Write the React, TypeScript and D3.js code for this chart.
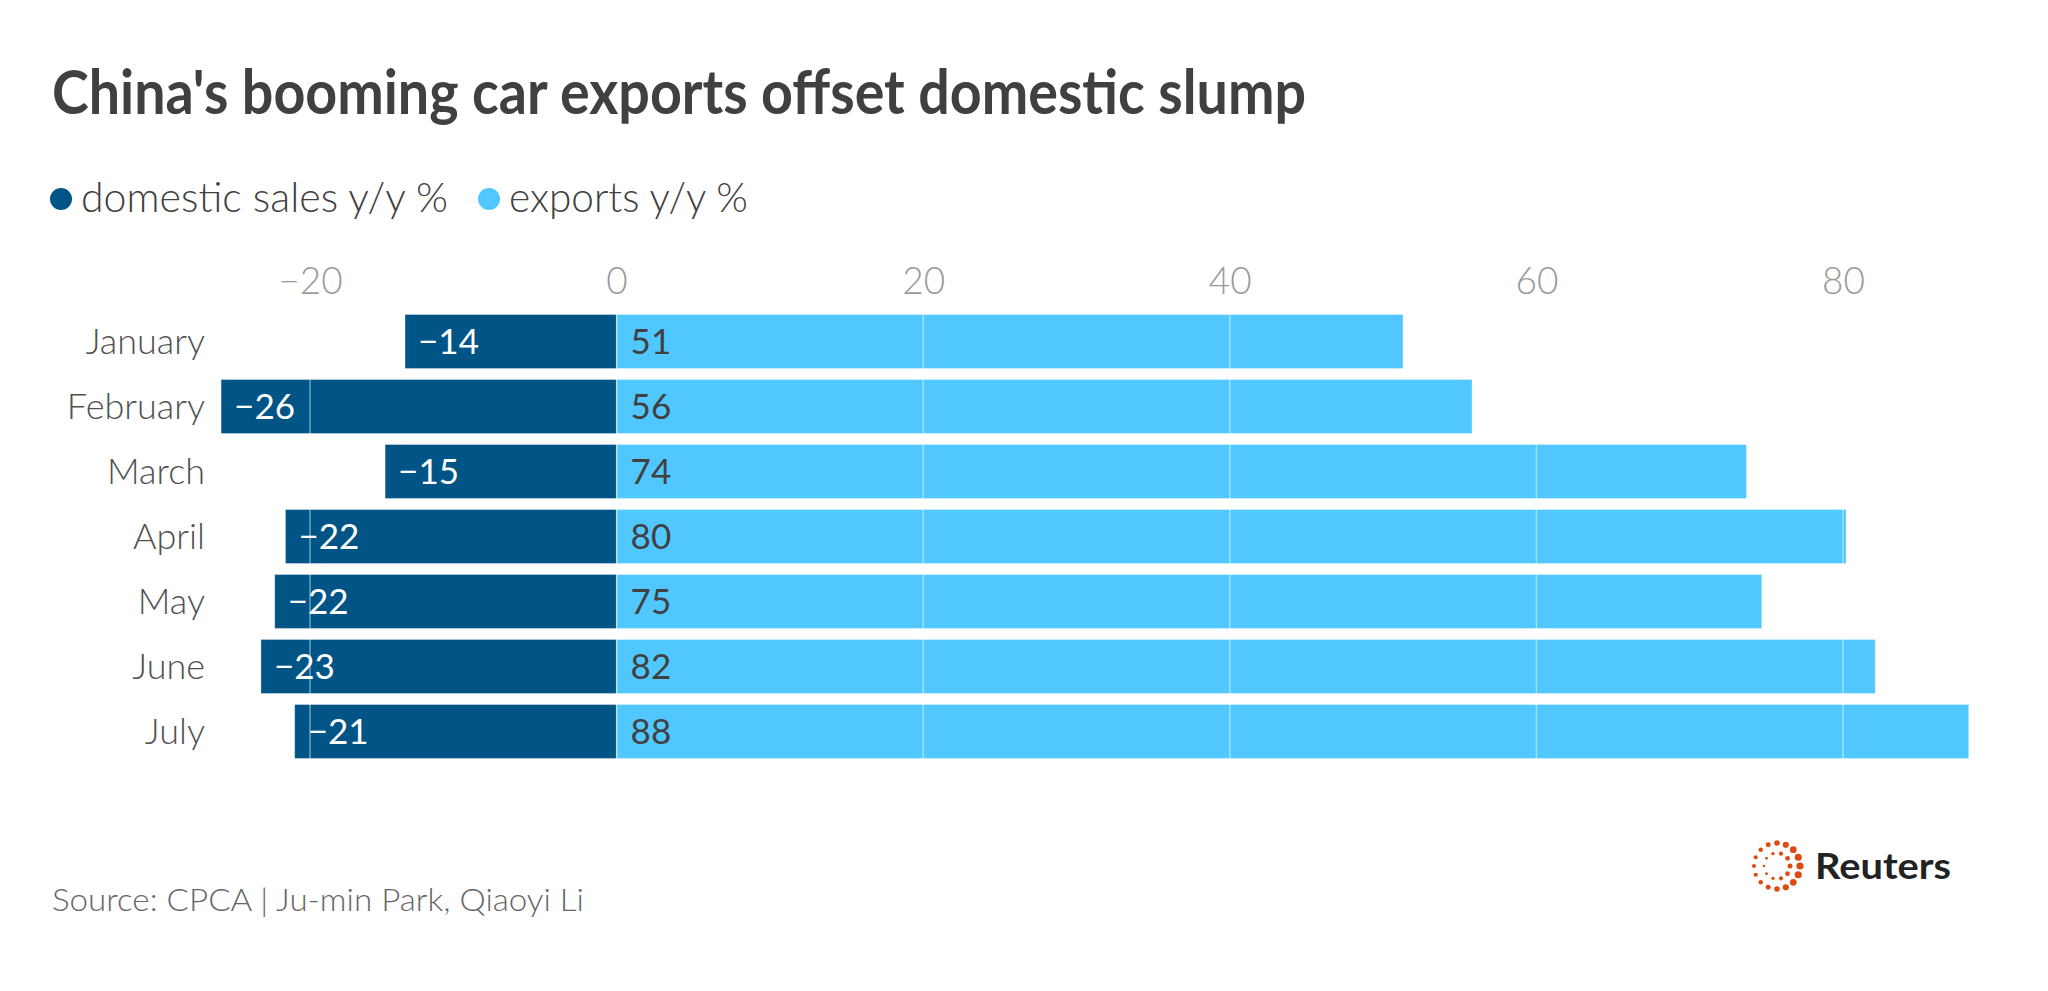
import { useEffect, useRef } from 'react';
import { axisTop, format, range, scaleBand, scaleLinear, select } from 'd3';

const months = ['January', 'February', 'March', 'April', 'May', 'June', 'July'];
const domesticSales = [-13.8, -25.8, -15.1, -21.6, -22.3, -23.2, -21.0];
const exportsGrowth = [51.3, 55.8, 73.7, 80.2, 74.7, 82.1, 88.2];
const xTicks = [-20, 0, 20, 40, 60, 80];

const seriesNames = ['domestic sales y/y %', 'exports y/y %'];
const seriesColors = ['#005486', '#50c8ff'];

const WIDTH = 2048;
const HEIGHT = 991;
const FONT = 'Lato, "Noto Sans", sans-serif';

export default function App() {
  const svgRef = useRef<SVGSVGElement | null>(null);

  useEffect(() => {
    document.body.style.margin = '0';
    const svgElement = svgRef.current;
    if (!svgElement) return;

    const svg = select(svgElement);
    svg.selectAll('*').remove();

    const x = scaleLinear().domain([-20, 80]).range([310, 1843]);
    const y = scaleBand<string>().domain(months).range([309, 764]).paddingInner(0.17).paddingOuter(0.085);
    const fmt = format('.0f');

    // title
    svg.append('text')
      .attr('x', 52)
      .attr('y', 114)
      .attr('font-family', FONT)
      .attr('font-weight', 700)
      .attr('font-size', 61)
      .attr('fill', '#404040')
      .attr('textLength', 1254)
      .attr('lengthAdjust', 'spacingAndGlyphs')
      .text("China's booming car exports offset domestic slump");

    // legend
    const legendX = [61, 489];
    const legendLen = [367, 239];
    const legend = svg.append('g');
    seriesNames.forEach((name, i) => {
      legend.append('circle')
        .attr('cx', legendX[i])
        .attr('cy', 199)
        .attr('r', 11)
        .attr('fill', seriesColors[i]);
      legend.append('text')
        .attr('x', legendX[i] + 20)
        .attr('y', 212)
        .attr('font-family', FONT)
        .attr('font-weight', 300)
        .attr('font-size', 41)
        .attr('fill', '#404040')
        .attr('textLength', legendLen[i])
        .attr('lengthAdjust', 'spacingAndGlyphs')
        .text(name);
    });

    // x axis on top
    const axis = svg.append('g')
      .attr('transform', 'translate(0, 294)')
      .call(axisTop(x).tickValues(xTicks).tickSize(0).tickPadding(0).tickFormat((d) => format('')(d as number)));
    axis.select('.domain').remove();
    axis.selectAll('text')
      .attr('font-family', FONT)
      .attr('font-weight', 300)
      .attr('font-size', 37)
      .attr('fill', '#9a9a9a');

    // month labels
    svg.append('g')
      .selectAll('text')
      .data(months)
      .join('text')
      .attr('x', 205)
      .attr('y', (d) => (y(d) ?? 0) + y.bandwidth() / 2)
      .attr('dy', '0.35em')
      .attr('text-anchor', 'end')
      .attr('font-family', FONT)
      .attr('font-weight', 300)
      .attr('font-size', 36)
      .attr('fill', '#505050')
      .text((d) => d);

    // bars
    const bars = svg.append('g');
    bars.selectAll('rect.dom')
      .data(months)
      .join('rect')
      .attr('class', 'dom')
      .attr('x', (_, i) => x(domesticSales[i]))
      .attr('y', (d) => y(d) ?? 0)
      .attr('width', (_, i) => x(0) - x(domesticSales[i]))
      .attr('height', y.bandwidth())
      .attr('fill', seriesColors[0])
      .attr('stroke', '#ffffff')
      .attr('stroke-opacity', 0.3)
      .attr('stroke-width', 1);
    bars.selectAll('rect.exp')
      .data(months)
      .join('rect')
      .attr('class', 'exp')
      .attr('x', x(0))
      .attr('y', (d) => y(d) ?? 0)
      .attr('width', (_, i) => x(exportsGrowth[i]) - x(0))
      .attr('height', y.bandwidth())
      .attr('fill', seriesColors[1])
      .attr('stroke', '#ffffff')
      .attr('stroke-opacity', 0.3)
      .attr('stroke-width', 1);

    // gridlines over bars
    svg.append('g')
      .selectAll('line')
      .data(xTicks)
      .join('line')
      .attr('x1', (d) => x(d))
      .attr('x2', (d) => x(d))
      .attr('y1', y(months[0]) ?? 0)
      .attr('y2', (y(months[months.length - 1]) ?? 0) + y.bandwidth())
      .attr('stroke', '#ffffff')
      .attr('stroke-opacity', 0.45)
      .attr('stroke-width', 1.5);

    // value labels
    const labels = svg.append('g')
      .attr('font-family', FONT)
      .attr('font-weight', 400)
      .attr('font-size', 35);
    labels.selectAll('text.dom')
      .data(months)
      .join('text')
      .attr('class', 'dom')
      .attr('x', (_, i) => x(domesticSales[i]) + 13)
      .attr('y', (d) => (y(d) ?? 0) + y.bandwidth() / 2)
      .attr('dy', '0.35em')
      .attr('fill', '#ffffff')
      .text((_, i) => fmt(domesticSales[i]));
    labels.selectAll('text.exp')
      .data(months)
      .join('text')
      .attr('class', 'exp')
      .attr('x', x(0) + 14)
      .attr('y', (d) => (y(d) ?? 0) + y.bandwidth() / 2)
      .attr('dy', '0.35em')
      .attr('fill', '#404040')
      .text((_, i) => fmt(exportsGrowth[i]));

    // source
    svg.append('text')
      .attr('x', 52)
      .attr('y', 911)
      .attr('font-family', FONT)
      .attr('font-weight', 300)
      .attr('font-size', 32)
      .attr('fill', '#666666')
      .attr('textLength', 532)
      .attr('lengthAdjust', 'spacingAndGlyphs')
      .text('Source: CPCA | Ju-min Park, Qiaoyi Li');

    // Reuters logo
    const logo = svg.append('g').attr('transform', 'translate(1777, 866)');
    const outer = range(16);
    logo.selectAll('circle.o')
      .data(outer)
      .join('circle')
      .attr('class', 'o')
      .attr('cx', (i) => 23 * Math.cos((i / 16) * 2 * Math.PI - Math.PI / 2))
      .attr('cy', (i) => 23 * Math.sin((i / 16) * 2 * Math.PI - Math.PI / 2))
      .attr('r', (i) => 2 + 1.6 * (0.5 + 0.5 * Math.sin((i / 16) * 2 * Math.PI)))
      .attr('fill', '#dc4b0f');
    const inner = range(10);
    logo.selectAll('circle.i')
      .data(inner)
      .join('circle')
      .attr('class', 'i')
      .attr('cx', (i) => 13 * Math.cos((i / 10) * 2 * Math.PI))
      .attr('cy', (i) => 13 * Math.sin((i / 10) * 2 * Math.PI))
      .attr('r', (i) => 1.3 + 1.2 * (0.5 + 0.5 * Math.cos((i / 10) * 2 * Math.PI)))
      .attr('fill', '#dc4b0f');
    svg.append('text')
      .attr('x', 1815)
      .attr('y', 879)
      .attr('font-family', FONT)
      .attr('font-weight', 700)
      .attr('font-size', 36)
      .attr('fill', '#222222')
      .attr('textLength', 136)
      .attr('lengthAdjust', 'spacingAndGlyphs')
      .text('Reuters');
  }, []);

  return (
    <svg ref={svgRef} width={WIDTH} height={HEIGHT} style={{ display: 'block', background: '#ffffff' }} />
  );
}
